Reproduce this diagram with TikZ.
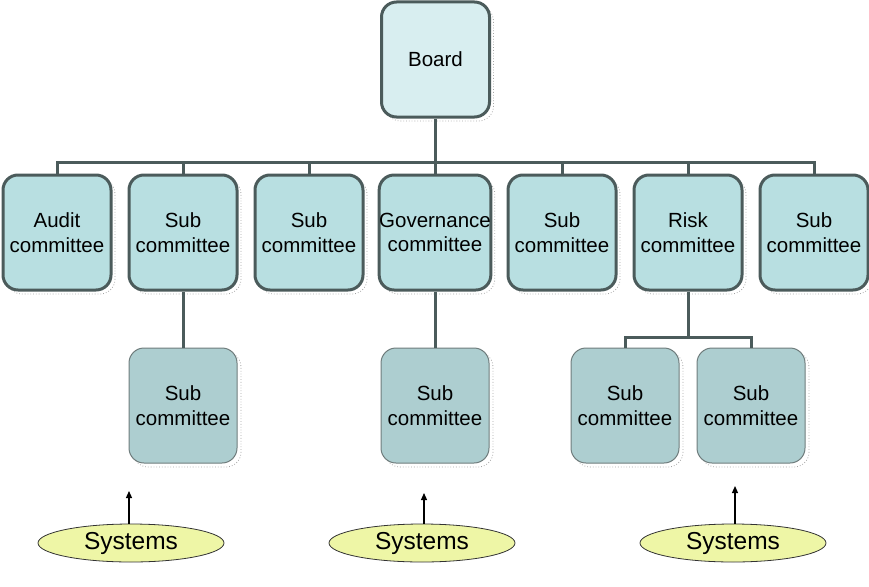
\documentclass[tikz,border=0pt]{standalone}
\usepackage{fontspec}
\setmainfont{Liberation Sans}
\usetikzlibrary{arrows.meta,shadows,shapes.geometric}
\definecolor{edgec}{HTML}{4B5B5B}
\definecolor{boardfill}{HTML}{D8EEF0}
\definecolor{midfill}{HTML}{B8DFE1}
\definecolor{lowfill}{HTML}{ADCED0}
\definecolor{sysfill}{HTML}{EEF6A6}
\tikzset{
  boxbase/.style={rounded corners=15pt, minimum width=108pt, minimum height=115pt,
    align=center, inner sep=0pt, font=\fontsize{20.5}{24.5}\selectfont,
    general shadow={draw=gray!70, dotted, line width=0.8pt, fill=none, shadow xshift=4pt, shadow yshift=-4pt}},
  topbox/.style={boxbase, draw=edgec, line width=3pt, fill=boardfill},
  midbox/.style={boxbase, draw=edgec, line width=3pt, fill=midfill},
  lowbox/.style={boxbase, draw=edgec!80, line width=1pt, fill=lowfill},
  sysnode/.style={ellipse, draw=black!80, line width=0.8pt, fill=sysfill, minimum width=186pt,
    minimum height=38pt, inner sep=0pt, font=\fontsize{24.5}{27}\selectfont},
  conn/.style={draw=edgec, line width=3pt},
  uparrow/.style={draw=black, line width=1.2pt, -{Triangle[length=7pt,width=6pt]}}
}
\begin{document}
\begin{tikzpicture}[x=1pt,y=-1pt]
\useasboundingbox (0,0) rectangle (869,586);
% top
\node[topbox] (board) at (435.5,59.5) {Board};
% middle row
\node[midbox] (b1) at (57,232.5) {Audit\\committee};
\node[midbox] (b2) at (183,232.5) {Sub\\committee};
\node[midbox] (b3) at (309,232.5) {Sub\\committee};
\node[midbox] (b4) at (435,232.5) {Governance\\committee};
\node[midbox] (b5) at (562,232.5) {Sub\\committee};
\node[midbox] (b6) at (688,232.5) {Risk\\committee};
\node[midbox] (b7) at (814,232.5) {Sub\\committee};
% lower row
\node[lowbox] (s1) at (183,405.5) {Sub\\committee};
\node[lowbox] (s2) at (435,405.5) {Sub\\committee};
\node[lowbox] (s3) at (625,405.5) {Sub\\committee};
\node[lowbox] (s4) at (751,405.5) {Sub\\committee};
% systems
\node[sysnode] (y1) at (131,543) {Systems};
\node[sysnode] (y2) at (422,543) {Systems};
\node[sysnode] (y3) at (733,543) {Systems};
% connectors
\coordinate (bus) at (435.5,162);
\coordinate (rj) at (688,337);
\draw[conn] (board.south) -- (bus);
\foreach \n in {b1,b2,b3,b4,b5,b6,b7}{\draw[conn] (bus) -| (\n.north);}
\draw[conn] (b2.south) -- (s1.north);
\draw[conn] (b4.south) -- (s2.north);
\draw[conn] (b6.south) -- (rj);
\draw[conn] (rj) -| (s3.north);
\draw[conn] (rj) -| (s4.north);
% arrows
\coordinate (t1) at (129,491);
\coordinate (t2) at (424,493);
\coordinate (t3) at (735,486);
\draw[uparrow] (y1.north -| t1) -- (t1);
\draw[uparrow] (y2.north -| t2) -- (t2);
\draw[uparrow] (y3.north -| t3) -- (t3);
\end{tikzpicture}
\end{document}
